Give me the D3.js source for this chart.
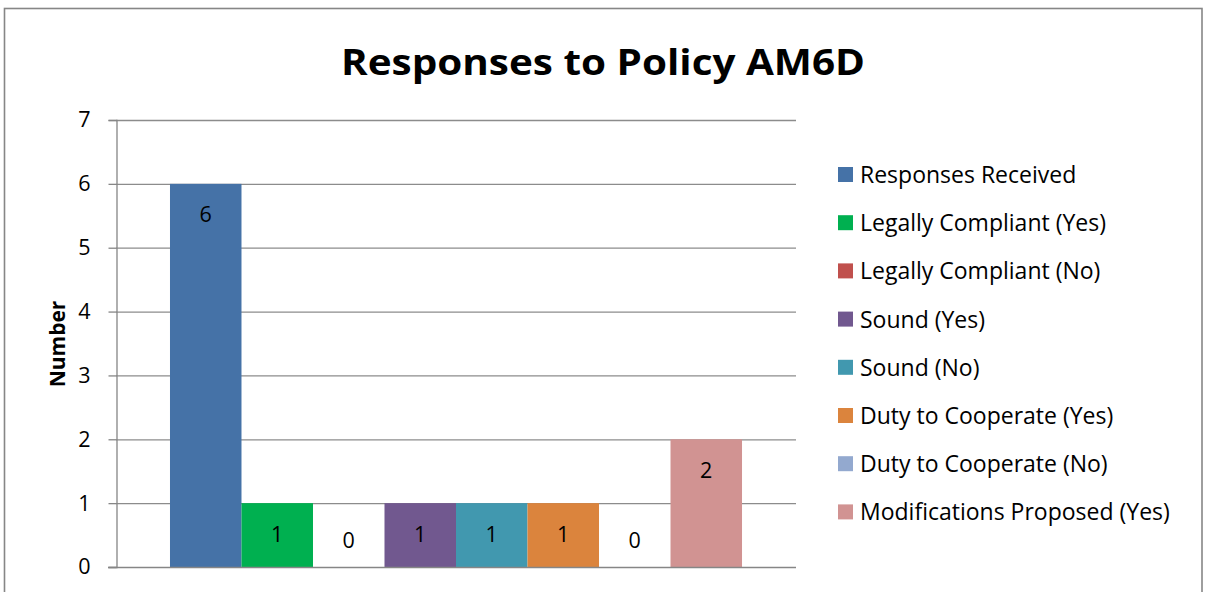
<!DOCTYPE html>
<html><head><meta charset="utf-8">
<script src="https://cdn.jsdelivr.net/npm/d3@7"></script>
<style>body{margin:0;background:#fff}svg{display:block}text{font-family:"Open Sans",sans-serif}</style>
</head><body>
<svg id="c" width="1205" height="592"></svg>
<script>
const series = ["Responses Received","Legally Compliant (Yes)","Legally Compliant (No)","Sound (Yes)","Sound (No)","Duty to Cooperate (Yes)","Duty to Cooperate (No)","Modifications Proposed (Yes)"];
const values = [6,1,0,1,1,1,0,2];
const colors = ["#4572A7","#00B050","#C0504D","#71588F","#4198AF","#DB843D","#93A9CF","#D19392"];
const yTicks = [0,1,2,3,4,5,6,7];
const title = "Responses to Policy AM6D";
const yTitle = "Number";

const svg = d3.select("#c");
svg.append("rect").attr("x",4.5).attr("y",8.5).attr("width",1197.5).attr("height",600)
  .attr("fill","#fff").attr("stroke","#868686").attr("stroke-width",1.6);

const L=116,R=796,T=120,B=567;
const y = d3.scaleLinear().domain([0,7]).range([B,T]);
const x = d3.scaleBand().domain(series).range([L,R]).paddingInner(0).paddingOuter(0.755);

svg.append("g").selectAll("line").data(yTicks.filter(d=>d>0)).join("line")
  .attr("x1",L).attr("x2",R).attr("y1",d=>y(d)+0.5).attr("y2",d=>y(d)+0.5)
  .attr("stroke","#8c8c8c").attr("stroke-width",1.3);

svg.append("g").selectAll("rect").data(series).join("rect")
  .attr("x",d=>x(d)).attr("width",x.bandwidth())
  .attr("y",(d,i)=>y(values[i])).attr("height",(d,i)=>y(0)-y(values[i]))
  .attr("fill",(d,i)=>colors[i]);

const ax = svg.append("g").attr("transform",`translate(${L+0.5},0)`)
  .call(d3.axisLeft(y).tickValues(yTicks).tickSize(8).tickPadding(18).tickFormat(d3.format("d")));
ax.select(".domain").attr("stroke","#868686").attr("stroke-width",1.3);
ax.selectAll(".tick line").attr("stroke","#868686").attr("stroke-width",1.3);
ax.selectAll(".tick text").attr("font-size",21.5).attr("fill","#000").attr("font-family","'Open Sans',sans-serif");
svg.append("line").attr("x1",L-8).attr("x2",R).attr("y1",B+0.5).attr("y2",B+0.5)
  .attr("stroke","#868686").attr("stroke-width",1.3);

svg.append("g").selectAll("text").data(series).join("text")
  .attr("x",d=>x(d)+x.bandwidth()/2)
  .attr("y",(d,i)=> values[i]>0 ? y(values[i])+38.5 : y(0)-19)
  .attr("text-anchor","middle").attr("font-size",21.5).attr("fill","#000")
  .text((d,i)=>values[i]);

svg.append("text").attr("x",603).attr("y",75).attr("text-anchor","middle")
  .attr("font-size",36).attr("font-weight","bold").attr("textLength",524).attr("lengthAdjust","spacingAndGlyphs").text(title);
svg.append("text").attr("transform","translate(65,344) rotate(-90)").attr("text-anchor","middle")
  .attr("font-size",21).attr("font-weight","bold").text(yTitle);

const lg = svg.append("g").selectAll("g").data(series).join("g")
  .attr("transform",(d,i)=>`translate(838,${175+i*48.2})`);
lg.append("rect").attr("x",0).attr("y",-8).attr("width",15).attr("height",15).attr("fill",(d,i)=>colors[i]);
lg.append("text").attr("x",22).attr("y",8).attr("font-size",23).text(d=>d);
</script>
</body></html>
